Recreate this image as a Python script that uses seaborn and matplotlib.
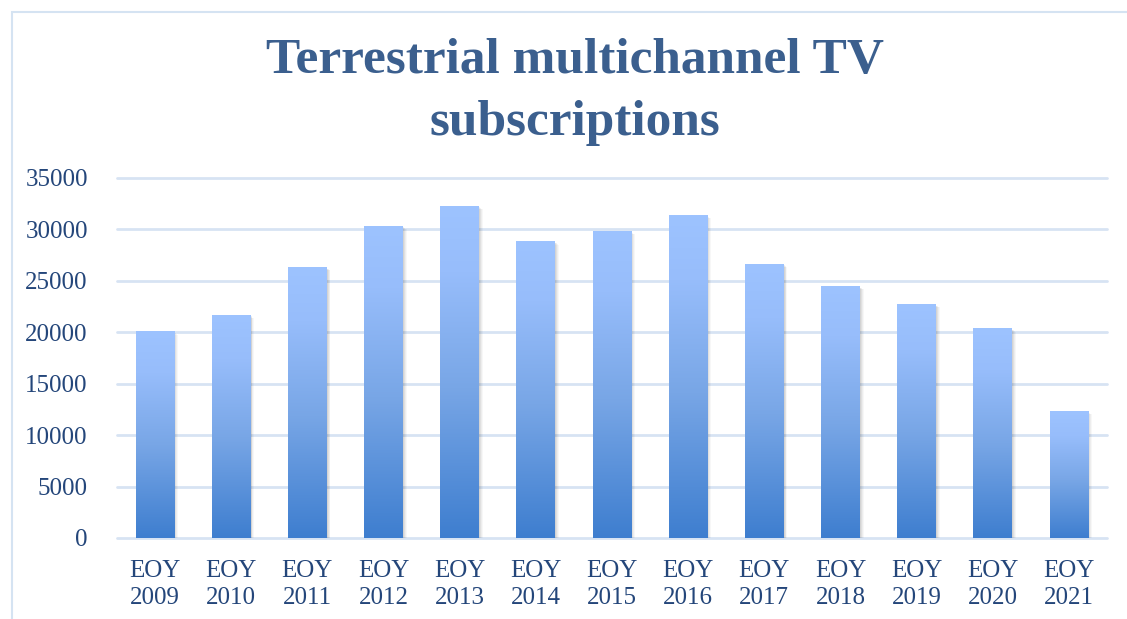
import numpy as np
import pandas as pd
import matplotlib
matplotlib.use("Agg")
import matplotlib.pyplot as plt
import seaborn as sns
from matplotlib.colors import LinearSegmentedColormap
from matplotlib.patches import Rectangle

categories = ["EOY\n2009", "EOY\n2010", "EOY\n2011", "EOY\n2012", "EOY\n2013", "EOY\n2014",
              "EOY\n2015", "EOY\n2016", "EOY\n2017", "EOY\n2018", "EOY\n2019", "EOY\n2020", "EOY\n2021"]
values = [20100, 21700, 26350, 30350, 32300, 28850, 29850, 31400, 26650, 24500, 22750, 20400, 12350]
yticks = [0, 5000, 10000, 15000, 20000, 25000, 30000, 35000]
title = "Terrestrial multichannel TV\nsubscriptions"

sns.set_theme(style="white")
plt.rcParams['font.family'] = ['Liberation Serif', 'DejaVu Serif']

fig = plt.figure(figsize=(11.27, 6.19), dpi=100)
ax = fig.add_axes([117/1127, 1-538/619, (1107-117)/1127, (538-178)/619])

df = pd.DataFrame({"cat": categories, "val": values})
sns.barplot(data=df, x="cat", y="val", ax=ax, width=0.51, color="#9DC3FF", zorder=3)

ax.set_ylim(0, 35000)
ax.set_xlim(-0.5, len(categories) - 0.5)
ax.set_yticks(yticks)
ax.set_yticklabels([str(t) for t in yticks])
ax.set_xlabel("")
ax.set_ylabel("")
for s in ax.spines.values():
    s.set_visible(False)
for t in yticks:
    ax.axhline(t, color="#D7E3F3", lw=2, zorder=1, clip_on=False)
ax.tick_params(axis='both', length=0, labelsize=18, colors="#24467A")
ax.tick_params(axis='x', pad=16)
ax.tick_params(axis='y', pad=21)
for lab in ax.get_xticklabels():
    lab.set_linespacing(1.3)

cmap = LinearSegmentedColormap.from_list("g", [(0.0, "#3E7ECF"), (0.45, "#78A6E6"), (0.8, "#97BDFB"), (1.0, "#9DC3FF")])
grad = np.linspace(0, 1, 256).reshape(-1, 1)
for p in list(ax.patches):
    x0, y0 = p.get_x(), p.get_y()
    w, h = p.get_width(), p.get_height()
    # shadow
    for k, a in enumerate([0.06, 0.05, 0.04, 0.03]):
        off = 0.012 + k * 0.012
        sh = Rectangle((x0 + off, y0 - 150 - k * 60), w, h, facecolor="#000000", alpha=a,
                       edgecolor="none", zorder=2)
        ax.add_patch(sh)
    p.set_facecolor("none")
    p.set_edgecolor("none")
    im = ax.imshow(grad, cmap=cmap, origin="lower", aspect="auto",
                   extent=[x0, x0 + w, y0, y0 + h], zorder=3.5)
    im.set_clip_path(p)
ax.set_xlim(-0.5, len(categories) - 0.5)
ax.set_ylim(0, 35000)

fig.text(575/1127, 1-92/619, title, ha="center", va="center", fontsize=37, fontweight="bold",
         color="#3B5F8E", linespacing=1.45)

frame = Rectangle((12/1127, -0.05), 1.2, 1 - 12/619 + 0.05, transform=fig.transFigure,
                  facecolor="none", edgecolor="#D5E3F2", lw=1.5)
fig.patches.append(frame)

fig.savefig("out.png", dpi=100)
